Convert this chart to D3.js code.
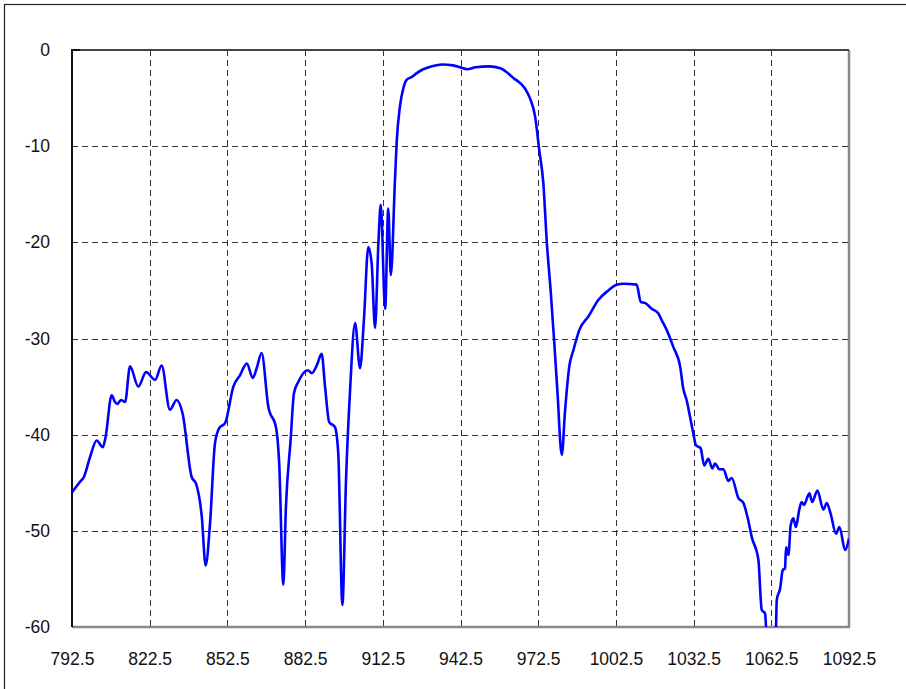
<!DOCTYPE html>
<html>
<head>
<meta charset="utf-8">
<script src="https://cdn.jsdelivr.net/npm/d3@7"></script>
<style>
  body { margin: 0; background: #fff; }
  text { font-family: "Liberation Sans", Arial, sans-serif; }
</style>
</head>
<body>
<div id="chart"></div>
<script>
// Tick labels
const xTicks = [792.5, 822.5, 852.5, 882.5, 912.5, 942.5, 972.5, 1002.5, 1032.5, 1062.5, 1092.5];
const yTicks = [0, -10, -20, -30, -40, -50, -60];

// Filter response, frequency (MHz) and attenuation (dB)
const freq = [
  792.5, 795.6, 797.1, 799.5, 802.0, 804.4, 805.5, 807.8, 809.1, 810.0,
  811.4, 813.0, 814.9, 818.1, 821.1, 824.6, 827.1, 830.3, 832.9, 835.2,
  838.7, 840.4, 842.6, 844.1, 845.8, 847.7, 849.4, 851.6, 854.8, 857.4,
  860.0, 862.3, 863.8, 865.7, 868.3, 871.3, 872.5, 874.1, 875.1, 876.9,
  878.2, 879.9, 883.5, 885.1, 887.0, 888.9, 890.2, 891.8, 894.0, 895.3,
  896.9, 898.3, 899.8, 901.8, 903.7, 905.2, 906.9, 908.2, 909.5, 910.8,
  911.7, 913.4, 914.6, 915.6, 917.2, 917.9, 919.1, 920.4, 921.7, 923.7,
  925.6, 928.1, 931.4, 935.2, 939.7, 942.3, 945.1, 948.3, 953.5, 957.9,
  962.9, 967.4, 969.3, 971.3, 972.9, 974.5, 975.8, 977.3, 978.6, 979.9,
  981.6, 982.9, 984.5, 986.1, 988.4, 991.9, 995.7, 999.6, 1002.8, 1005.4,
  1010.5, 1012.1, 1013.7, 1016.3, 1018.9, 1020.2, 1022.1, 1024.7, 1027.3, 1028.5,
  1029.8, 1031.1, 1032.4, 1033.4, 1035.2, 1036.6, 1038.2, 1039.7, 1040.8, 1042.4,
  1044.0, 1045.9, 1047.2, 1049.8, 1051.7, 1053.6, 1054.9, 1057.5, 1058.8, 1060.1,
  1060.5, 1062.4, 1064.3, 1064.6, 1065.9, 1066.9, 1067.8, 1068.2, 1069.1, 1070.0,
  1071.0, 1072.0, 1073.3, 1074.2, 1075.1, 1077.2, 1078.3, 1080.3, 1082.6, 1083.9,
  1085.4, 1087.5, 1088.8, 1091.0, 1092.5
];
const gain = [
  -46.0, -44.9, -44.4, -42.3, -40.6, -41.3, -40.2, -35.9, -36.6, -36.8,
  -36.4, -36.6, -32.9, -35.0, -33.5, -34.3, -32.8, -37.4, -36.4, -37.8,
  -44.4, -45.1, -48.5, -53.6, -49.2, -40.9, -39.3, -38.8, -35.0, -33.8,
  -32.6, -34.1, -33.1, -31.5, -37.1, -39.3, -43.0, -55.6, -47.5, -40.6,
  -35.7, -34.5, -33.3, -33.6, -32.8, -31.6, -35.0, -38.7, -39.2, -41.9,
  -57.7, -44.7, -35.7, -28.4, -33.1, -28.1, -20.5, -22.2, -28.9, -20.1,
  -16.1, -26.9, -16.5, -23.4, -13.5, -9.4, -5.9, -4.0, -3.1, -2.8,
  -2.4, -2.0, -1.7, -1.5, -1.6, -1.8, -2.0, -1.8, -1.7, -1.9,
  -2.9, -4.0, -5.0, -6.9, -10.4, -13.9, -19.9, -25.0, -30.0, -35.4,
  -42.1, -37.4, -32.9, -31.2, -29.1, -27.7, -26.0, -25.0, -24.4, -24.3,
  -24.4, -26.2, -26.3, -26.9, -27.4, -28.1, -29.1, -30.9, -32.9, -35.2,
  -36.4, -38.1, -39.9, -41.1, -41.4, -43.2, -42.5, -43.5, -43.0, -43.6,
  -43.6, -44.8, -44.5, -46.6, -47.1, -48.9, -50.6, -53.0, -58.2, -58.6,
  -60.1, -63.4, -60.1, -57.2, -56.0, -54.1, -53.9, -51.7, -52.5, -49.4,
  -48.7, -49.6, -47.8, -47.0, -47.3, -46.1, -47.0, -45.8, -47.8, -47.1,
  -48.2, -50.3, -49.6, -52.0, -50.8
];

const width = 906, height = 689;
const plotLeft = 72, plotRight = 849, plotTop = 50, plotBottom = 627;

const svg = d3.select("#chart").append("svg")
  .attr("width", width)
  .attr("height", height);

// Outer frame (only top and left edges fall inside the picture)
svg.append("rect")
  .attr("x", 4.5).attr("y", 4.5)
  .attr("width", 1000).attr("height", 1000)
  .attr("fill", "none")
  .attr("stroke", "#222")
  .attr("stroke-width", 1.2);

const x = d3.scaleLinear().domain([792.5, 1092.5]).range([plotLeft, plotRight]);
const y = d3.scaleLinear().domain([-60, 0]).range([plotBottom, plotTop]);

// Dashed grid
const grid = svg.append("g")
  .attr("stroke", "#333")
  .attr("stroke-width", 1)
  .attr("stroke-dasharray", "6,4");

grid.selectAll("line.v")
  .data(xTicks.slice(1, -1))
  .join("line")
  .attr("class", "v")
  .attr("x1", d => Math.round(x(d)) + 0.5)
  .attr("x2", d => Math.round(x(d)) + 0.5)
  .attr("y1", plotTop)
  .attr("y2", plotBottom);

grid.selectAll("line.h")
  .data(yTicks.slice(1, -1))
  .join("line")
  .attr("class", "h")
  .attr("x1", plotLeft)
  .attr("x2", plotRight)
  .attr("y1", d => Math.round(y(d)) + 0.5)
  .attr("y2", d => Math.round(y(d)) + 0.5);

// Plot frame: grey right/bottom, dark top, black left
svg.append("line")
  .attr("x1", plotLeft).attr("x2", plotRight + 1)
  .attr("y1", plotBottom).attr("y2", plotBottom)
  .attr("stroke", "#888").attr("stroke-width", 2.5);
svg.append("line")
  .attr("x1", plotRight).attr("x2", plotRight)
  .attr("y1", plotTop).attr("y2", plotBottom)
  .attr("stroke", "#888").attr("stroke-width", 2.5);
svg.append("line")
  .attr("x1", plotLeft).attr("x2", plotRight)
  .attr("y1", plotTop).attr("y2", plotTop)
  .attr("stroke", "#444").attr("stroke-width", 1.8);
svg.append("line")
  .attr("x1", plotLeft).attr("x2", plotLeft + 8)
  .attr("y1", plotTop).attr("y2", plotTop)
  .attr("stroke", "#111").attr("stroke-width", 2);
svg.append("line")
  .attr("x1", plotLeft).attr("x2", plotLeft)
  .attr("y1", plotTop - 1).attr("y2", plotBottom)
  .attr("stroke", "#111").attr("stroke-width", 2);

// Clip the trace to the plot area
svg.append("clipPath").attr("id", "plot-clip")
  .append("rect")
  .attr("x", plotLeft).attr("y", plotTop)
  .attr("width", plotRight - plotLeft).attr("height", plotBottom - plotTop);

const line = d3.line()
  .x(d => x(d[0]))
  .y(d => y(d[1]))
  .curve(d3.curveMonotoneX);

svg.append("path")
  .datum(d3.zip(freq, gain))
  .attr("clip-path", "url(#plot-clip)")
  .attr("fill", "none")
  .attr("stroke", "#0000ff")
  .attr("stroke-width", 2.6)
  .attr("stroke-linejoin", "round")
  .attr("d", line);

// Axes: labels only, lines drawn above
const xAxis = svg.append("g")
  .attr("transform", `translate(0,${plotBottom})`)
  .call(d3.axisBottom(x).tickValues(xTicks).tickFormat(d => d.toFixed(1)).tickSize(0).tickPadding(26));
xAxis.select(".domain").remove();
xAxis.selectAll("text")
  .attr("font-family", "'Liberation Sans', Arial, sans-serif")
  .attr("font-size", "17.5px")
  .attr("fill", "#111");

const yAxis = svg.append("g")
  .attr("transform", `translate(${plotLeft},0)`)
  .call(d3.axisLeft(y).tickValues(yTicks).tickFormat(d => String(d)).tickSize(0).tickPadding(22));
yAxis.select(".domain").remove();
yAxis.selectAll("text")
  .attr("font-family", "'Liberation Sans', Arial, sans-serif")
  .attr("font-size", "17.5px")
  .attr("fill", "#111");
</script>
</body>
</html>
